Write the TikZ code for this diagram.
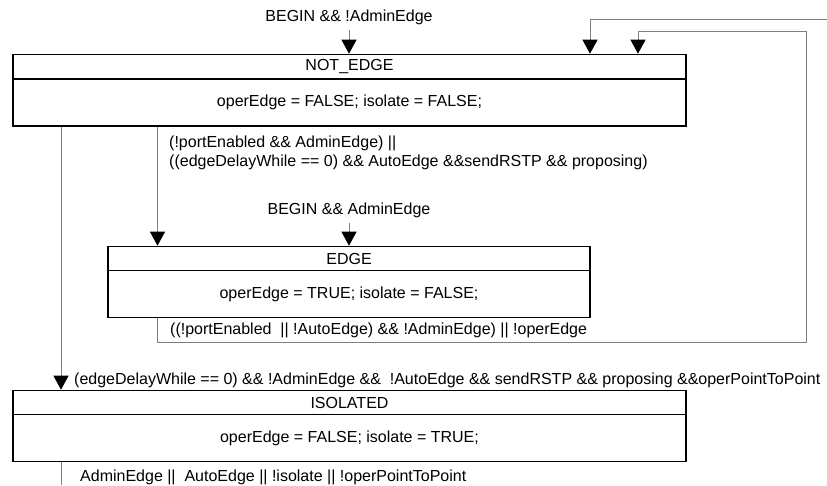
\documentclass[tikz,border=0pt]{standalone}
\usepackage{fontspec}
\setmainfont{Liberation Sans}
\usetikzlibrary{arrows.meta}
\begin{document}
\begin{tikzpicture}[x=1pt,y=-1pt,
  font=\fontsize{16}{18.5}\selectfont,
  hdr/.style={draw=black,line width=1.6pt,minimum height=24pt,inner sep=0pt,anchor=center},
  bdy/.style={draw=black,line width=1.6pt,minimum height=47pt,inner sep=0pt,anchor=center},
  tr/.style={draw=black!50,line width=0.9pt},
  arr/.style={tr,-{Triangle[width=15pt,length=14pt,black]}},
  lbl/.style={inner sep=0pt,align=left}]
\useasboundingbox (0,0) rectangle (827,485);
% boxes
\node[hdr,minimum width=673pt] (neh) at (349.5,66.5) {NOT\_EDGE};
\node[bdy,minimum width=673pt] (ne) at (349.5,102.5) {operEdge = FALSE; isolate = FALSE;};
\node[hdr,minimum width=482pt] (edh) at (349,258.5) {EDGE};
\node[bdy,minimum width=482pt] (ed) at (349,294) {operEdge = TRUE; isolate = FALSE;};
\node[hdr,minimum width=673pt] (ish) at (349.5,402.5) {ISOLATED};
\node[bdy,minimum width=673pt] (is) at (349.5,438) {operEdge = FALSE; isolate = TRUE;};
% helper coordinates
\coordinate (xa) at (61,0);
\coordinate (xb) at (157.5,0);
\coordinate (xc) at (590,0);
\coordinate (xd) at (638,0);
\coordinate (xm) at (349,0);
\coordinate (r1) at (827,19);
\coordinate (r2) at (806,31);
\coordinate (r3) at (806,342);
\coordinate (bot) at (61,485);
% labels
\node[lbl] (l1) at (349,17) {BEGIN \&\& !AdminEdge};
\node[lbl] (l2) at (349,210) {BEGIN \&\& AdminEdge};
\node[lbl,anchor=west] (l3) at (169,153) {(!portEnabled \&\& AdminEdge) ||\\((edgeDelayWhile == 0) \&\& AutoEdge \&\&sendRSTP \&\& proposing)};
\node[lbl,anchor=west] (l4) at (170,330) {((!portEnabled~~|| !AutoEdge) \&\& !AdminEdge) || !operEdge};
\node[lbl,anchor=west] (l5) at (74,380) {(edgeDelayWhile == 0) \&\& !AdminEdge \&\&~~!AutoEdge \&\& sendRSTP \&\& proposing \&\&operPointToPoint};
\node[lbl,anchor=west] (l6) at (80,477) {AdminEdge ||~~AutoEdge || !isolate || !operPointToPoint};
% transitions
\draw[arr] (l1.south |- 0,30) -- (neh.north -| xm);
\draw[arr] (l2.south |- 0,223) -- (edh.north -| xm);
\draw[arr] (ne.south -| xb) -- (edh.north -| xb);
\draw[arr] (ne.south -| xa) -- (ish.north -| xa);
\draw[tr] (is.south -| xa) -- (bot);
\draw[arr] (ed.south -| xb) |- (r3) -- (r2) -| (neh.north -| xd);
\draw[arr] (r1) -| (neh.north -| xc);
\end{tikzpicture}
\end{document}
